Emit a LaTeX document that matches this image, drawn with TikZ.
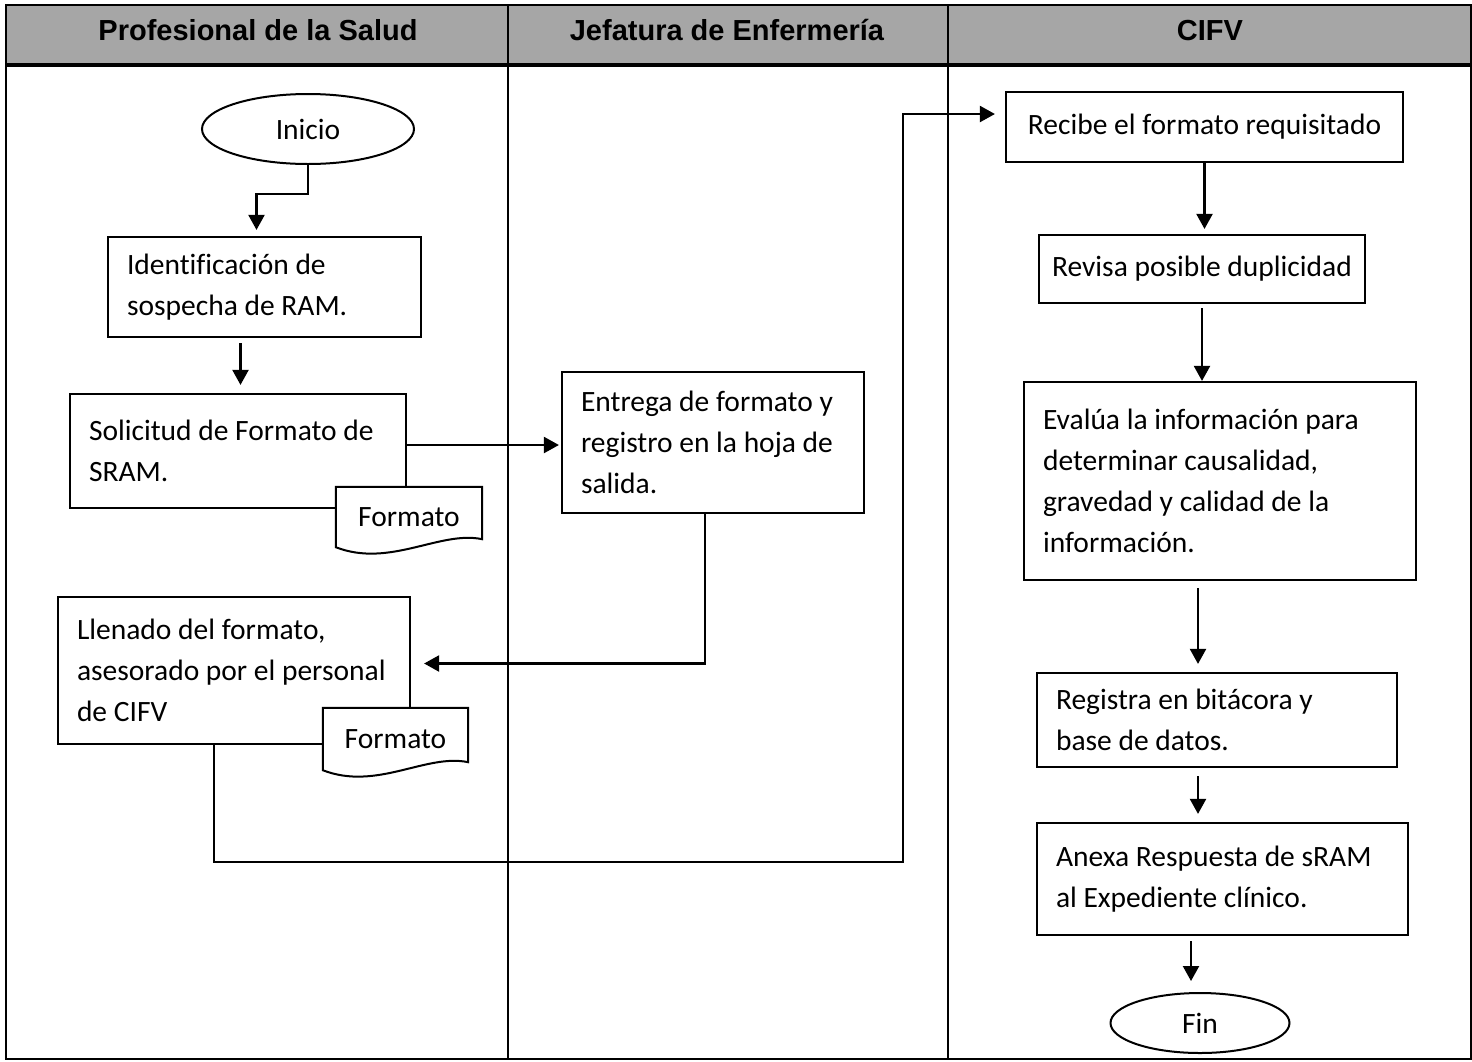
\documentclass[tikz,border=0pt]{standalone}
\usepackage{fontspec}
\setmainfont{Carlito}[Ligatures=NoCommon]
\newfontfamily\headfont{Liberation Sans}
\usetikzlibrary{arrows.meta}
\usetikzlibrary{calc}
\usetikzlibrary{shapes.geometric}
\definecolor{headgrey}{HTML}{A6A6A6}

\begin{document}
\begin{tikzpicture}[x=1pt,y=-1pt,
    every node/.style={font=\fontsize{29.5}{41}\selectfont},
    box/.style={draw,line width=2.2pt,fill=white,inner xsep=19pt,inner ysep=0pt,align=flush left},
    cbox/.style={draw,line width=2.2pt,fill=white,inner sep=0pt,align=center},
    term/.style={draw,ellipse,line width=2pt,inner sep=0pt},
    doc/.style={fill=white,inner sep=0pt},
    head/.style={font=\headfont\bfseries\fontsize{29}{32}\selectfont,anchor=base},
    flow/.style={line width=2.2pt,-{Triangle[width=16pt,length=15pt]}}]
            \useasboundingbox (0,0) rectangle (1472,1061);
            % swimlanes
            \fill[headgrey] (6,5) rectangle (1471,65);
            \draw[line width=1.6pt] (6,5) rectangle (1471,1059);
            \draw[line width=2pt] (508,5) -- (508,1059);
            \draw[line width=2pt] (948,5) -- (948,1059);
            \draw[line width=4pt] (6,65) -- (1471,65);
            \node[head] (hsalud) at (258,40) {Profesional de la Salud};
            \node[head] (hjefa) at (727,40) {Jefatura de Enfermería};
            \node[head] (hcifv) at (1210,40) {CIFV};
            % Profesional de la Salud
            \node[term,minimum width=212pt,minimum height=70pt] (inicio) at (308,129) {Inicio};
            \node[box,text width=275pt,minimum height=100pt] (ident) at (264.5,287) {Identificación de\\sospecha de RAM.};
            \node[box,text width=298pt,minimum height=114pt] (solic) at (238,451) {Solicitud de Formato de\\SRAM.};
            \node[doc,minimum width=146pt,minimum height=60pt] (fmt1) at (409,517) {Formato};
            \draw[line width=2pt] (fmt1.north west) -- (fmt1.north east) -- ($(fmt1.south east)+(0,-8)$)
                .. controls +(-42,-9) and +(54,21) .. (fmt1.south west) -- cycle;
            \node[box,text width=314pt,minimum height=147pt] (llenado) at (234,670.5) {Llenado del formato,\\asesorado por el personal\\de CIFV};
            \node[doc,minimum width=145pt,minimum height=62pt] (fmt2) at (395.5,739) {Formato};
            \draw[line width=2pt] (fmt2.north west) -- (fmt2.north east) -- ($(fmt2.south east)+(0,-8)$)
                .. controls +(-42,-9) and +(54,21) .. (fmt2.south west) -- cycle;
            % Jefatura de Enfermeria
            \node[box,text width=264pt,minimum height=141pt] (entrega) at (713,442.5) {Entrega de formato y\\registro en la hoja de\\salida.};
            % CIFV
            \node[cbox,minimum width=397pt,minimum height=70pt] (recibe) at (1204.5,127) {Recibe el formato requisitado};
            \node[cbox,minimum width=326pt,minimum height=68pt] (revisa) at (1202,269) {Revisa posible duplicidad};
            \node[box,text width=354pt,minimum height=198pt] (evalua) at (1220,481) {Evalúa la información para\\determinar causalidad,\\gravedad y calidad de la\\información.};
            \node[box,text width=322pt,minimum height=94pt] (registra) at (1217,720) {Registra en bitácora y\\base de datos.};
            \node[box,text width=333pt,minimum height=112pt] (anexa) at (1222.5,879) {Anexa Respuesta de sRAM\\al Expediente clínico.};
            \node[term,minimum width=179pt,minimum height=60pt] (fin) at (1200,1023) {Fin};
            \coordinate (giro) at (903,862);
            % connectors
            \draw[flow,shorten >=6pt] (inicio.south) -- ++(0,29) -| ($(ident.north)+(-8,0)$);
            \draw[flow,shorten <=5pt,shorten >=8pt] ($(ident.south)+(-24,0)$) -- ($(ident.south |- solic.north)+(-24,0)$);
            \draw[flow,shorten >=2pt] ($(solic.east)+(0,-6)$) -- ($(solic.east -| entrega.west)+(0,-6)$);
            \draw[flow,shorten >=13pt] ($(entrega.south)+(-8,0)$) |- ($(llenado.east)+(0,-7)$);
            \draw[flow,shorten >=10pt] ($(llenado.south)+(-20,0)$) |- (giro) |- ($(recibe.west)+(0,-13)$);
            \draw[flow,shorten >=5pt] (recibe.south) -- (recibe.south |- revisa.north);
            \draw[flow,shorten <=4pt] (revisa.south) -- (revisa.south |- evalua.north);
            \draw[flow,shorten <=7pt,shorten >=8pt] ($(evalua.south)+(-22,0)$) -- ($(evalua.south |- registra.north)+(-22,0)$);
            \draw[flow,shorten <=8pt,shorten >=8pt] ($(registra.south)+(-19,0)$) -- ($(registra.south |- anexa.north)+(-19,0)$);
            \draw[flow,shorten <=5pt,shorten >=11pt] ($(fin.north |- anexa.south)+(-9,0)$) -- ($(fin.north)+(-9,0)$);
        \end{tikzpicture}
\end{document}
